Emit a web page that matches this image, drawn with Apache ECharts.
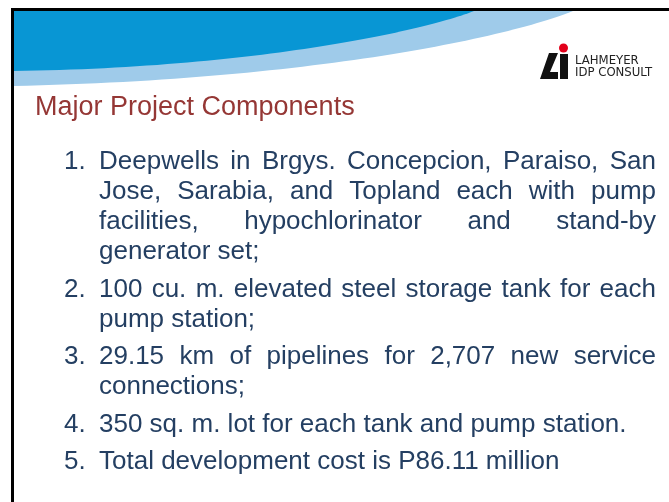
<!DOCTYPE html>
<html><head><meta charset="utf-8">
<script src="https://cdn.jsdelivr.net/npm/echarts@6/dist/echarts.min.js"></script>
<style>html,body{margin:0;padding:0;background:#fff}#main{width:669px;height:502px}</style>
</head><body><div id="main"></div>
<script>
const titleText = 'Major Project Components';
const logoLines = ['LAHMEYER', 'IDP CONSULT'];
const itemNumbers = ['1.', '2.', '3.', '4.', '5.'];
const item1Lines = ['Deepwells in Brgys. Concepcion, Paraiso, San', 'Jose, Sarabia, and Topland each with pump', 'facilities, hypochlorinator and stand-by', 'generator set;'];
const item2Lines = ['100 cu. m. elevated steel storage tank for each', 'pump station;'];
const item3Lines = ['29.15 km of pipelines for 2,707 new service', 'connections;'];
const item4Lines = ['350 sq. m. lot for each tank and pump station.'];
const item5Lines = ['Total development cost is P86.11 million'];
const itemLines = [item1Lines, item2Lines, item3Lines, item4Lines, item5Lines];

const FONT_FAMILY = '"Liberation Sans", Arial, sans-serif';
const BODY_SIZE = 26;
const BODY_FONT = BODY_SIZE + 'px ' + FONT_FAMILY;
const BODY_COLOR = '#243f62';
const NUM_X = 64, TEXT_X = 99, RIGHT_X = 656;
const FIRST_Y = 162, LINE_STEP = 30, ITEM_STEP = 37.5;

const ctx = document.createElement('canvas').getContext('2d');
ctx.font = BODY_FONT;
function tw(s) { return ctx.measureText(s).width; }

function textEl(text, x, y, font, fill, align) {
  return { type: 'text', silent: true, style: { text: text, x: x, y: y, font: font, fill: fill,
    textAlign: align || 'left', textVerticalAlign: 'middle', align: align || 'left', verticalAlign: 'middle' } };
}
function bezierPts(p0, c1, c2, p3, n) {
  const pts = [];
  for (let i = 0; i <= n; i++) {
    const t = i / n, u = 1 - t;
    pts.push([u*u*u*p0[0] + 3*u*u*t*c1[0] + 3*u*t*t*c2[0] + t*t*t*p3[0],
              u*u*u*p0[1] + 3*u*u*t*c1[1] + 3*u*t*t*c2[1] + t*t*t*p3[1]]);
  }
  return pts;
}

const elements = [];
// header swoosh
elements.push({ type: 'polygon', silent: true, shape: { points: [[13, 11]].concat(bezierPts([573, 11], [500, 40], [300, 80], [13, 86], 60)) }, style: { fill: '#9fcbea' } });
elements.push({ type: 'polygon', silent: true, shape: { points: [[13, 11]].concat(bezierPts([474, 11], [420, 32], [250, 68], [13, 71], 60)) }, style: { fill: '#0896d4' } });
// frame
elements.push({ type: 'rect', silent: true, shape: { x: 11, y: 8, width: 658, height: 3 }, style: { fill: '#000' } });
elements.push({ type: 'rect', silent: true, shape: { x: 11, y: 8, width: 3, height: 494 }, style: { fill: '#000' } });
// logo
elements.push({ type: 'polygon', silent: true, shape: { points: [[549, 53], [558, 53], [550, 72], [558, 72], [558, 79], [540, 79]] }, style: { fill: '#111' } });
elements.push({ type: 'rect', silent: true, shape: { x: 560, y: 54, width: 8, height: 25 }, style: { fill: '#111' } });
elements.push({ type: 'circle', silent: true, shape: { cx: 563.5, cy: 48, r: 4.5 }, style: { fill: '#e2001a' } });
const LOGO_FONT = '13px "Liberation Sans Narrow", "DejaVu Sans Condensed", sans-serif';
elements.push(textEl(logoLines[0], 575, 61, LOGO_FONT, '#222'));
elements.push(textEl(logoLines[1], 575, 73, LOGO_FONT, '#222'));
// title
elements.push(textEl(titleText, 35, 108, '27px ' + FONT_FAMILY, '#953735'));
// body
let y = FIRST_Y;
itemLines.forEach(function (lines, i) {
  elements.push(textEl(itemNumbers[i], NUM_X, y, BODY_FONT, BODY_COLOR));
  lines.forEach(function (line, j) {
    const justify = j < lines.length - 1;
    if (justify) {
      const words = line.split(' ');
      const total = words.reduce(function (s, w) { return s + tw(w); }, 0);
      const gap = (RIGHT_X - TEXT_X - total) / (words.length - 1);
      let x = TEXT_X;
      words.forEach(function (w) {
        elements.push(textEl(w, x, y, BODY_FONT, BODY_COLOR));
        x += tw(w) + gap;
      });
    } else {
      elements.push(textEl(line, TEXT_X, y, BODY_FONT, BODY_COLOR));
    }
    if (j < lines.length - 1) y += LINE_STEP;
  });
  y += ITEM_STEP;
});

const chart = echarts.init(document.getElementById('main'), null, { renderer: 'canvas' });
chart.setOption({ animation: false, backgroundColor: '#fff', graphic: { elements: elements } });
</script></body></html>
